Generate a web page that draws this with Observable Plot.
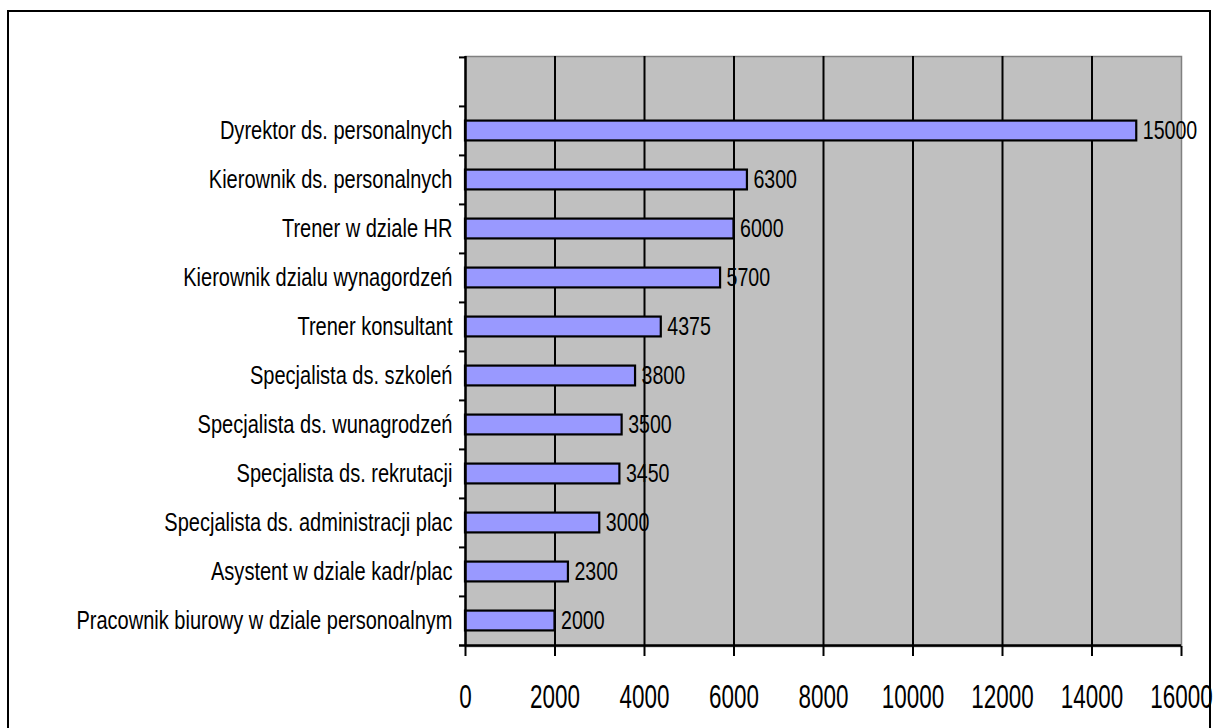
<!DOCTYPE html>
<html><head><meta charset="utf-8">
<script src="https://cdn.jsdelivr.net/npm/d3@7"></script>
<script src="https://cdn.jsdelivr.net/npm/@observablehq/plot@0.6"></script>
<style>
html,body{margin:0;padding:0;background:#fff;overflow:hidden}
#wrap{position:relative;width:1213px;height:728px}
#chart{position:absolute;left:0;top:0}
#border{position:absolute;left:7px;top:10px;width:1200px;height:760px;border:2px solid #000;pointer-events:none}
</style></head><body><div id="wrap"><div id="chart"></div><div id="border"></div></div>
<script>
const categories = [
  "Dyrektor ds. personalnych",
  "Kierownik ds. personalnych",
  "Trener w dziale HR",
  "Kierownik dzialu wynagordzeń",
  "Trener konsultant",
  "Specjalista ds. szkoleń",
  "Specjalista ds. wunagrodzeń",
  "Specjalista ds. rekrutacji",
  "Specjalista ds. administracji plac",
  "Asystent w dziale kadr/plac",
  "Pracownik biurowy w dziale personoalnym"
];
const values = [15000, 6300, 6000, 5700, 4375, 3800, 3500, 3450, 3000, 2300, 2000];
const xTicks = [0, 2000, 4000, 6000, 8000, 10000, 12000, 14000, 16000];
const emptySlot = "";

const data = categories.map((c, i) => ({category: c, value: values[i]}));
const yDomain = [emptySlot, ...categories];

const W = 1213, H = 728, mt = 56, mb = 82, ml = 465, mr = 32;
const bw = (H - mt - mb) / yDomain.length;
const barH = 20;
const inset = (bw - barH) / 2;
const xMax = xTicks[xTicks.length - 1];
const pxPerUnit = (W - ml - mr) / xMax;
const font = "'Liberation Sans',Arial,sans-serif";

const chart = Plot.plot({
  width: W, height: H,
  marginTop: mt, marginBottom: mb, marginLeft: ml, marginRight: mr,
  style: {fontFamily: font, background: "transparent", color: "#000", overflow: "visible"},
  x: {domain: [0, xMax]},
  y: {type: "band", domain: yDomain, padding: 0},
  marks: [
    Plot.frame({fill: "#C0C0C0", stroke: "#808080", strokeWidth: 1.5}),
    Plot.ruleX(xTicks.slice(1, -1), {stroke: "#000", strokeWidth: 2}),
    Plot.barX(data, {x: "value", y: "category", fill: "#9999FF", stroke: "#000", strokeWidth: 2.2, insetTop: inset, insetBottom: inset}),
    Plot.text(data, {x: "value", y: "category", text: d => String(d.value), dx: 6, textAnchor: "start", fontSize: 26.5, fill: "#000", className: "vlab"}),
    Plot.ruleX([0], {stroke: "#000", strokeWidth: 2.5}),
    Plot.ruleY(yDomain, {y: d => d, x1: -6 / pxPerUnit, x2: 0, dy: -bw / 2, stroke: "#000", strokeWidth: 2}),
    Plot.ruleY([categories[categories.length - 1]], {y: d => d, x1: -6 / pxPerUnit, x2: xMax, dy: bw / 2, stroke: "#000", strokeWidth: 2.5}),
    Plot.axisX({ticks: xTicks, anchor: "bottom", label: null, tickSize: 10, tickPadding: 28, fontSize: 33, strokeWidth: 2, tickFormat: d => String(d)}),
    Plot.axisY({anchor: "left", label: null, tickSize: 0, tickPadding: 13, fontSize: 26})
  ]
});
document.getElementById("chart").appendChild(chart);
// condense the glyphs horizontally, like the narrow font of the original
chart.querySelectorAll("text").forEach(t => {
  const fs = parseFloat(getComputedStyle(t).fontSize);
  const squeeze = fs >= 30 ? 0.68 : (fs > 26.2 ? 0.74 : 0.77);
  const len = t.getComputedTextLength();
  if (len > 0) {
    t.setAttribute("textLength", (len * squeeze).toFixed(1));
    t.setAttribute("lengthAdjust", "spacingAndGlyphs");
  }
});
</script>
</body></html>
